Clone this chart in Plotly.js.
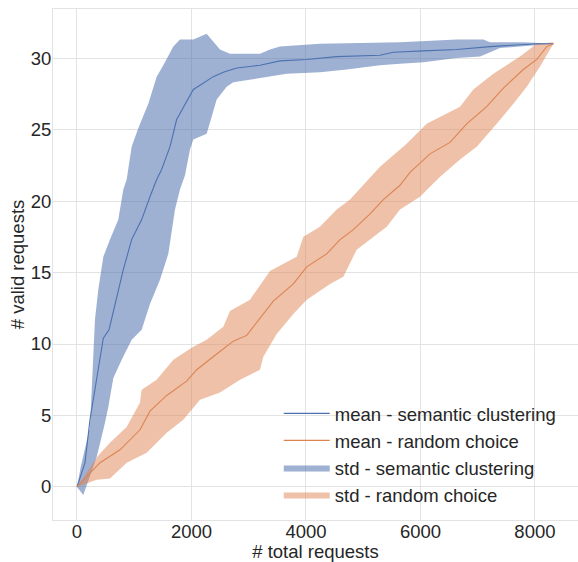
<!DOCTYPE html>
<html>
<head>
<meta charset="utf-8">
<script src="https://cdn.plot.ly/plotly-3.0.1.min.js"></script>
<style>html,body{margin:0;padding:0;background:#fff;}#chart{width:578px;height:562px;}</style>
</head>
<body>
<div id="chart"></div>
<script>
// Semantic clustering: mean curve
var semMeanX = [0, 140, 227, 402, 460, 560, 640, 809, 955, 1130, 1275, 1392, 1479, 1625, 1741, 1857, 2032, 2149, 2381, 2556, 2790, 3197, 3546, 4013, 4537, 5293, 5526, 6050, 6633, 7215, 8031, 8322];
var semMeanY = [0, 1.7, 4.7, 9.1, 10.4, 11.0, 12.3, 15.2, 17.3, 18.7, 20.3, 21.5, 22.2, 23.8, 25.7, 26.5, 27.8, 28.1, 28.7, 29.0, 29.3, 29.5, 29.8, 29.9, 30.1, 30.2, 30.4, 30.5, 30.6, 30.8, 31.0, 31.0];
// Semantic clustering: mean + std
var semUpX = [0, 65, 227, 285, 314, 372, 460, 576, 722, 809, 868, 955, 1072, 1246, 1392, 1508, 1683, 1799, 2032, 2265, 2353, 2498, 2673, 3197, 3372, 3546, 4245, 5643, 6633, 7098, 7215, 7797, 8322];
var semUpY = [0, 1.4, 4.2, 10.0, 11.7, 13.8, 16.1, 17.3, 18.7, 20.8, 21.5, 23.8, 25.1, 26.8, 28.7, 29.5, 30.8, 31.3, 31.3, 31.7, 31.3, 30.6, 30.3, 30.3, 30.6, 30.8, 31.0, 31.1, 31.3, 31.3, 31.1, 31.1, 31.0];
// Semantic clustering: mean - std
var semLoX = [0, 110, 344, 489, 547, 634, 781, 955, 1130, 1275, 1450, 1595, 1712, 1799, 1887, 1974, 2032, 2265, 2353, 2440, 2615, 2731, 3197, 3663, 4245, 4711, 5293, 5643, 6050, 6633, 7040, 7215, 7390, 8031, 8322];
var semLoY = [0, -0.56, 2.1, 4.5, 5.6, 7.6, 8.9, 10.3, 11.0, 12.8, 14.5, 16.3, 19.4, 20.8, 21.8, 23.6, 24.3, 24.7, 25.9, 27.1, 28.0, 28.3, 28.6, 28.9, 29.0, 29.2, 29.5, 29.6, 29.7, 30.0, 30.1, 30.4, 30.7, 30.9, 31.0];

// Random choice: mean curve
var rndMeanX = [0, 402, 751, 1101, 1275, 1567, 1916, 2091, 2440, 2731, 2964, 3255, 3430, 3779, 4013, 4362, 4595, 4828, 5119, 5351, 5643, 5817, 6167, 6516, 6807, 7157, 7448, 7797, 8031, 8206, 8322];
var rndMeanY = [0, 1.7, 2.6, 4.0, 5.3, 6.4, 7.4, 8.2, 9.3, 10.2, 10.6, 12.1, 13.0, 14.2, 15.4, 16.3, 17.3, 18.0, 19.1, 20.1, 21.1, 22.0, 23.3, 24.1, 25.4, 26.6, 27.9, 29.2, 29.9, 30.8, 31.0];
// Random choice: mean + std
var rndUpX = [0, 372, 576, 868, 1101, 1130, 1392, 1683, 2032, 2265, 2556, 2673, 3022, 3372, 3838, 3954, 4245, 4537, 4770, 5293, 5759, 6109, 6691, 6924, 7273, 7739, 8031, 8322];
var rndUpY = [0, 2.2, 3.1, 4.2, 5.9, 6.8, 7.5, 8.9, 9.8, 10.3, 11.2, 12.3, 13.1, 15.1, 16.1, 17.5, 18.2, 19.4, 20.1, 22.4, 24.0, 25.4, 26.6, 27.8, 28.9, 30.1, 31.0, 31.1];
// Random choice: mean - std
var rndLoX = [0, 344, 576, 868, 1217, 1567, 1857, 2149, 2498, 2848, 3197, 3255, 3488, 3779, 4013, 4420, 4653, 4886, 5119, 5410, 5643, 5992, 6342, 6691, 6982, 7332, 7623, 7856, 8089, 8264, 8322];
var rndLoY = [0, 0.5, 0.6, 1.7, 2.4, 3.8, 4.7, 6.1, 6.6, 7.5, 8.2, 9.1, 10.7, 12.1, 13.1, 14.2, 14.7, 16.6, 17.3, 18.2, 19.4, 20.3, 21.7, 22.9, 23.8, 25.4, 26.8, 28.0, 29.4, 30.6, 31.0];

var xTicks = [0, 2000, 4000, 6000, 8000];
var yTicks = [0, 5, 10, 15, 20, 25, 30];
var names = ['mean - semantic clustering', 'mean - random choice', 'std - semantic clustering', 'std - random choice'];

var blue = '#4c72b0', orange = '#dd8452';

function band(xu, yu, xl, yl) {
  return {x: xu.concat(xl.slice().reverse()), y: yu.concat(yl.slice().reverse())};
}
var semBand = band(semUpX, semUpY, semLoX, semLoY);
var rndBand = band(rndUpX, rndUpY, rndLoX, rndLoY);

var traces = [
  {x: semBand.x, y: semBand.y, type: 'scatter', mode: 'lines', fill: 'toself',
   fillcolor: 'rgba(72,108,172,0.53)', line: {width: 0, color: 'rgba(0,0,0,0)'}, name: names[2], legendrank: 3, hoverinfo: 'skip'},
  {x: rndBand.x, y: rndBand.y, type: 'scatter', mode: 'lines', fill: 'toself',
   fillcolor: 'rgba(221,132,82,0.5)', line: {width: 0, color: 'rgba(0,0,0,0)'}, name: names[3], legendrank: 4, hoverinfo: 'skip'},
  {x: semMeanX, y: semMeanY, type: 'scatter', mode: 'lines', line: {color: blue, width: 1.1}, name: names[0], legendrank: 1},
  {x: rndMeanX, y: rndMeanY, type: 'scatter', mode: 'lines', line: {color: orange, width: 1.1}, name: names[1], legendrank: 2}
];

var fnt = {family: 'Liberation Sans, Arial, sans-serif', size: 18.5, color: '#262626'};
var layout = {
  width: 578, height: 562,
  margin: {l: 53, r: 0, t: 9, b: 42},
  paper_bgcolor: '#fff', plot_bgcolor: '#fff',
  font: fnt,
  showlegend: true,
  legend: {x: 0.43, y: 0.245, xanchor: 'left', yanchor: 'top', bgcolor: 'rgba(0,0,0,0)', font: fnt, itemwidth: 46, traceorder: 'normal'},
  xaxis: {range: [-419, 8752], tickvals: xTicks, ticktext: xTicks.map(String), showgrid: true, gridcolor: '#e3e3e3', gridwidth: 1,
          zeroline: false, showline: true, linecolor: '#e3e3e3', mirror: true, ticks: '', tickfont: fnt, ticklabelstandoff: -5,
          title: {text: '# total requests', font: fnt, standoff: 2}},
  yaxis: {range: [-2.31, 33.43], tickvals: yTicks, ticktext: yTicks.map(String), showgrid: true, gridcolor: '#e3e3e3', gridwidth: 1,
          zeroline: false, showline: true, linecolor: '#e3e3e3', mirror: true, ticks: '', tickfont: fnt, ticklabelstandoff: -3,
          title: {text: '# valid requests', font: fnt, standoff: 1}}
};
Plotly.newPlot('chart', traces, layout, {displayModeBar: false, staticPlot: true});
</script>
</body>
</html>
